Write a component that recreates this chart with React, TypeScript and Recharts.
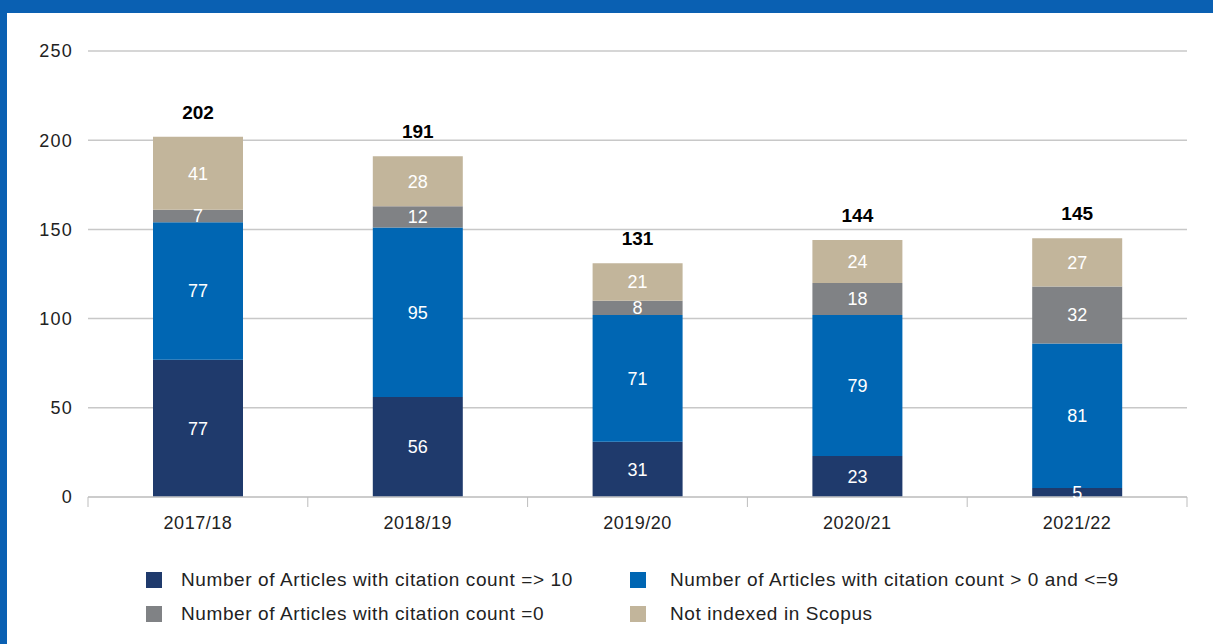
import { Bar, BarChart, CartesianGrid, LabelList, Legend, XAxis, YAxis } from 'recharts'

const years = ['2017/18', '2018/19', '2019/20', '2020/21', '2021/22']
const citedTen = [77, 56, 31, 23, 5]
const citedLow = [77, 95, 71, 79, 81]
const citedZero = [7, 12, 8, 18, 32]
const notIndexed = [41, 28, 21, 24, 27]
const totals = [202, 191, 131, 144, 145]
const yTicks = [0, 50, 100, 150, 200, 250]

const series = [
  { key: 'ten', name: 'Number of Articles with citation count => 10', color: '#1f3a6c' },
  { key: 'low', name: 'Number of Articles with citation count > 0 and <=9', color: '#0066b3' },
  { key: 'zero', name: 'Number of Articles with citation count =0', color: '#808285' },
  { key: 'none', name: 'Not indexed in Scopus', color: '#c2b59b' },
]

const data = years.map((year, i) => ({
  year,
  ten: citedTen[i],
  low: citedLow[i],
  zero: citedZero[i],
  none: notIndexed[i],
  total: totals[i],
}))

const font = '"Liberation Sans", Arial, sans-serif'

// year label plus the small tick marks that sit between the categories
function YearTick(props: any) {
  const { x, y, payload, index, visibleTicksCount } = props
  const half = payload.offset ?? 0
  const top = y - 19
  return (
    <g>
      <line x1={x - half} x2={x - half} y1={top} y2={top + 10} stroke="#bdbdbd" />
      {index === visibleTicksCount - 1 && (
        <line x1={x + half} x2={x + half} y1={top} y2={top + 10} stroke="#bdbdbd" />
      )}
      <text x={x} y={y} dy="0.71em" textAnchor="middle" fill="#222" fontSize={18} letterSpacing={0.5} fontFamily={font}>
        {payload.value}
      </text>
    </g>
  )
}

function LegendBox() {
  return (
    <div
      style={{
        display: 'grid',
        gridTemplateColumns: '484px auto',
        rowGap: 14,
        paddingLeft: 139,
        paddingTop: 33,
        fontFamily: font,
        fontSize: 19,
        letterSpacing: 0.6,
        color: '#222',
        whiteSpace: 'nowrap',
      }}
    >
      {series.map((s, i) => (
        <div key={s.key} style={{ display: 'flex', alignItems: 'center', height: 20 }}>
          <span
            style={{
              width: 16,
              height: 16,
              background: s.color,
              marginRight: i % 2 === 0 ? 19 : 24,
              display: 'inline-block',
              flex: 'none',
            }}
          />
          {s.name}
        </div>
      ))}
    </div>
  )
}

export default function App() {
  return (
    <div style={{ width: 1213, height: 644, background: '#0a60b2', position: 'relative', overflow: 'hidden' }}>
      <style>{'body{margin:0}'}</style>
      <div style={{ position: 'absolute', left: 7, top: 13, width: 1206, height: 631, background: '#fff' }}>
        <BarChart width={1206} height={631} data={data} barSize={90} margin={{ top: 38, right: 26, left: 0, bottom: 10 }}>
          <CartesianGrid vertical={false} stroke="#c8c8c8" strokeWidth={1.5} />
          <XAxis
            dataKey="year"
            axisLine={{ stroke: '#c8c8c8', strokeWidth: 1.5 }}
            tickLine={false}
            tickSize={0}
            tickMargin={19}
            height={40}
            interval={0}
            tick={<YearTick />}
          />
          <YAxis
            domain={[0, 250]}
            ticks={yTicks}
            width={81}
            axisLine={false}
            tickLine={false}
            tickSize={0}
            tickMargin={15}
            tick={{ fill: '#222', fontSize: 18, fontFamily: font, letterSpacing: 1.2 }}
          />
          <Legend verticalAlign="bottom" height={97} content={() => <LegendBox />} wrapperStyle={{ left: 0, width: 1206 }} />
          {series.map((s, idx) => (
            <Bar key={s.key} dataKey={s.key} name={s.name} stackId="a" fill={s.color} isAnimationActive={false}>
              <LabelList dataKey={s.key} position="center" fill="#fff" fontSize={18} fontFamily={font} />
              {idx === series.length - 1 && (
                <LabelList
                  dataKey="total"
                  position="top"
                  offset={18}
                  fill="#000"
                  fontSize={19}
                  fontWeight="bold"
                  fontFamily={font}
                />
              )}
            </Bar>
          ))}
        </BarChart>
      </div>
    </div>
  )
}
